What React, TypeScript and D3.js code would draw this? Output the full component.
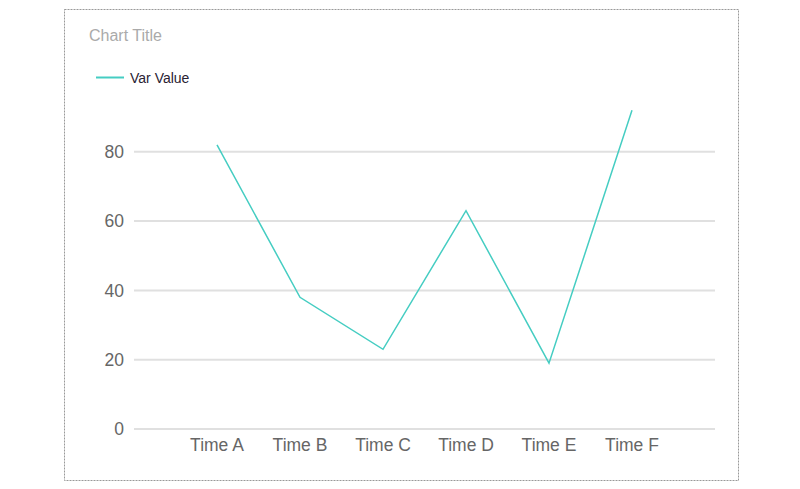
import { useEffect, useRef } from 'react';
import * as d3 from 'd3';

const categories = ['Time A', 'Time B', 'Time C', 'Time D', 'Time E', 'Time F'];
const values = [82, 38, 23, 63, 19, 92];
const yTicks = [0, 20, 40, 60, 80];
const seriesName = 'Var Value';

const LineChart = () => {
  const ref = useRef(null);

  const width = 800;
  const height = 489;
  const plot = { left: 134, right: 715, top: 82.5, bottom: 429 };
  const lineColor = '#45cdc2';
  const font = '"Liberation Sans", Arial, sans-serif';

  useEffect(() => {
    const svg = d3.select(ref.current);
    svg.selectAll('*').remove();

    // outer dotted frame
    svg
      .append('rect')
      .attr('x', 64.5)
      .attr('y', 9.5)
      .attr('width', 674)
      .attr('height', 471)
      .attr('fill', 'none')
      .attr('stroke', '#999')
      .attr('stroke-dasharray', '2,1');

    svg
      .append('text')
      .attr('x', 89)
      .attr('y', 41)
      .style('font', `16px ${font}`)
      .style('fill', '#aaa')
      .text('Chart Title');

    // legend
    svg
      .append('line')
      .attr('x1', 96)
      .attr('x2', 124)
      .attr('y1', 77.5)
      .attr('y2', 77.5)
      .attr('stroke', lineColor)
      .attr('stroke-width', 2);
    svg
      .append('text')
      .attr('x', 130)
      .attr('y', 83)
      .style('font', `14px ${font}`)
      .style('fill', '#2a2233')
      .text(seriesName);

    const x = d3
      .scalePoint<string>()
      .domain(categories)
      .range([plot.left, plot.right])
      .padding(1);

    const y = d3
      .scaleLinear()
      .domain([0, 100])
      .range([plot.bottom, plot.top]);

    // grid lines
    svg
      .append('g')
      .selectAll('line')
      .data(yTicks)
      .enter()
      .append('line')
      .attr('x1', plot.left)
      .attr('x2', plot.right)
      .attr('y1', (d) => y(d))
      .attr('y2', (d) => y(d))
      .attr('stroke', '#e0e0e0')
      .attr('stroke-width', 2);

    // y labels
    svg
      .append('g')
      .selectAll('text')
      .data(yTicks)
      .enter()
      .append('text')
      .attr('x', 124)
      .attr('y', (d) => y(d))
      .attr('dy', '0.35em')
      .style('text-anchor', 'end')
      .style('font', `17.5px ${font}`)
      .style('fill', '#666')
      .text((d) => d);

    // x labels
    svg
      .append('g')
      .selectAll('text')
      .data(categories)
      .enter()
      .append('text')
      .attr('x', (d) => x(d) as number)
      .attr('y', 451)
      .style('text-anchor', 'middle')
      .style('font', `17.5px ${font}`)
      .style('fill', '#666')
      .text((d) => d);

    const line = d3
      .line<number>()
      .x((_, i) => x(categories[i]) as number)
      .y((d) => y(d));

    svg
      .append('path')
      .datum(values)
      .attr('d', line)
      .attr('fill', 'none')
      .attr('stroke', lineColor)
      .attr('stroke-width', 1.5);
  }, []);

  return (
    <svg
      ref={ref}
      width={width}
      height={height}
      style={{ position: 'absolute', top: 0, left: 0, background: '#fff' }}
    />
  );
};

export default function App() {
  return <LineChart />;
}
